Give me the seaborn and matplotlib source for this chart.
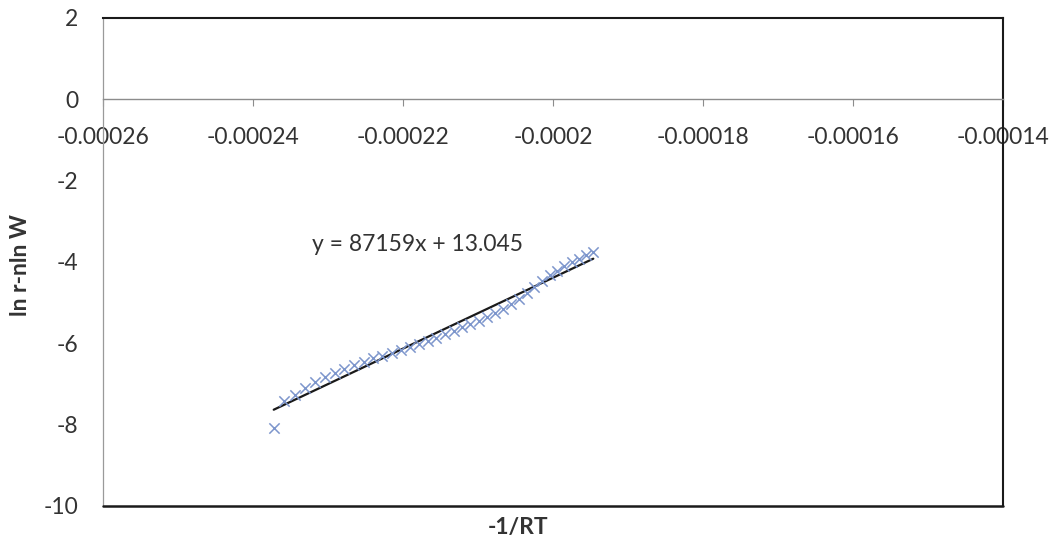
import numpy as np
import pandas as pd
import matplotlib
matplotlib.use("Agg")
import matplotlib.pyplot as plt
import seaborn as sns

# ---- data ----
x_vals = [-2.37237e-4, -2.35841e-4, -2.34462e-4, -2.33099e-4, -2.31752e-4, -2.30420e-4,
          -2.29103e-4, -2.27801e-4, -2.26514e-4, -2.25242e-4, -2.23983e-4, -2.22739e-4,
          -2.21508e-4, -2.20291e-4, -2.19088e-4, -2.17897e-4, -2.16719e-4, -2.15554e-4,
          -2.14401e-4, -2.13261e-4, -2.12132e-4, -2.11016e-4, -2.09911e-4, -2.08818e-4,
          -2.07736e-4, -2.06665e-4, -2.05605e-4, -2.04556e-4, -2.03518e-4, -2.02490e-4,
          -2.01472e-4, -2.00465e-4, -1.99468e-4, -1.98480e-4, -1.97503e-4, -1.96534e-4,
          -1.95576e-4, -1.94626e-4]
y_vals = [-8.08, -7.43, -7.26, -7.10, -6.96, -6.84,
          -6.72, -6.62, -6.53, -6.45, -6.37, -6.30,
          -6.23, -6.16, -6.09, -6.02, -5.94, -5.86,
          -5.78, -5.70, -5.61, -5.53, -5.44, -5.35,
          -5.25, -5.15, -5.04, -4.91, -4.77, -4.62,
          -4.47, -4.33, -4.21, -4.10, -4.01, -3.93,
          -3.84, -3.76]
trend_slope = 87159
trend_intercept = 13.045
equation_label = "y = 87159x + 13.045"
x_ticks = [-0.00026, -0.00024, -0.00022, -0.0002, -0.00018, -0.00016, -0.00014]
x_ticklabels = ["-0.00026", "-0.00024", "-0.00022", "-0.0002", "-0.00018", "-0.00016", "-0.00014"]
y_ticks = [2, 0, -2, -4, -6, -8, -10]
y_ticklabels = ["2", "0", "-2", "-4", "-6", "-8", "-10"]
x_title = "-1/RT"
y_title = "ln r-nln W"

df = pd.DataFrame({"x": x_vals, "y": y_vals})
trend_x = [min(x_vals), max(x_vals)]
trend_df = pd.DataFrame({"x": trend_x,
                         "y": [trend_slope * v + trend_intercept for v in trend_x]})

sns.set_theme(style="white")
plt.rcParams["font.family"] = ["Lato", "DejaVu Sans"]

TEXT = "#333333"
FS = 16.5
fig = plt.figure(figsize=(10.6, 5.43), dpi=100)
ax = fig.add_axes([103 / 1060, 1 - 506 / 543, 900 / 1060, 488 / 543])

sns.lineplot(data=trend_df, x="x", y="y", ax=ax, color="#1a1a1a", linewidth=1.6, zorder=2)
sns.scatterplot(data=df, x="x", y="y", ax=ax, marker="x", color="#7d96cc",
                s=55, linewidth=1.1, zorder=3)

ax.set_xlim(-0.00026, -0.00014)
ax.set_ylim(-10, 2)
ax.set_xticks(x_ticks)
ax.set_xticklabels(x_ticklabels)
ax.set_yticks(y_ticks)
ax.set_yticklabels(y_ticklabels)

# x axis crosses at y = 0
ax.spines["bottom"].set_position(("data", 0))
ax.spines["bottom"].set_color("#8c8c8c")
ax.spines["bottom"].set_linewidth(1.0)
ax.spines["left"].set_color("#9a9a9a")
ax.spines["left"].set_linewidth(0.9)
for s in ["top", "right"]:
    ax.spines[s].set_color("#1a1a1a")
    ax.spines[s].set_linewidth(1.5)
ax.axhline(-10, color="#1a1a1a", linewidth=1.8, clip_on=False, zorder=5)

ax.tick_params(axis="x", direction="out", length=5, width=0.8, color="#8c8c8c",
               pad=15, labelsize=FS, labelcolor=TEXT, bottom=True)
ax.tick_params(axis="y", length=0, pad=18, labelsize=FS, labelcolor=TEXT, left=True)

ax.set_xlabel(x_title, fontsize=FS, fontweight="bold", color=TEXT)
ax.set_ylabel(y_title, fontsize=FS, fontweight="bold", color=TEXT)
ax.xaxis.set_label_coords((518 - 103) / 900, (506 - 517) / 488)
ax.yaxis.set_label_coords((31 - 103) / 900, (506 - 265) / 488)

ax.text(-0.0002181, -3.56, equation_label, fontsize=FS, color=TEXT,
        ha="center", va="center")

fig.savefig("out.png", dpi=100, facecolor="white")
